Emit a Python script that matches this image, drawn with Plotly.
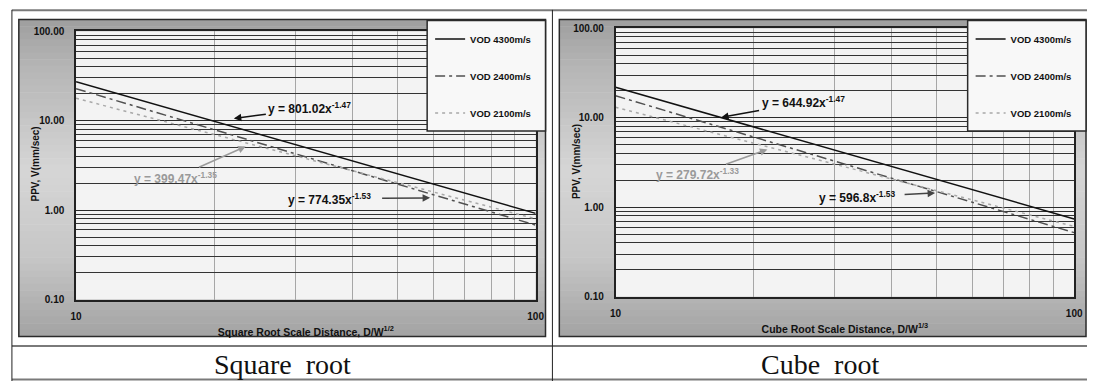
import plotly.graph_objects as go

W, H = 1096, 387

# ---------------- data ----------------
distance = [10, 100]
sq_vod4300 = [27.2, 0.92]
sq_vod2400 = [22.8, 0.68]
sq_vod2100 = [17.8, 0.80]
cu_vod4300 = [21.9, 0.74]
cu_vod2400 = [17.6, 0.52]
cu_vod2100 = [13.1, 0.61]

series_names = ["VOD 4300m/s", "VOD 2400m/s", "VOD 2100m/s"]
y_tickvals = [0.1, 1, 10, 100]
y_ticktext = ["0.10", "1.00", "10.00", "100.00"]
x_tickvals = [10, 100]
x_ticktext = ["10", "100"]
captions = ["Square\u00a0 root", "Cube\u00a0 root"]
x_titles = ["Square Root Scale Distance, D/W<sup>1/2</sup>",
            "Cube Root Scale Distance, D/W<sup>1/3</sup>"]
y_title = "PPV, V(mm/sec)"
sq_equations = ["y = 801.02x<sup>-1.47</sup>", "y = 399.47x<sup>-1.35</sup>", "y = 774.35x<sup>-1.53</sup>"]
cu_equations = ["y = 644.92x<sup>-1.47</sup>", "y = 279.72x<sup>-1.33</sup>", "y = 596.8x<sup>-1.53</sup>"]

# ---------------- styles ----------------
SANS = "Liberation Sans, Arial, sans-serif"
SERIF = "Liberation Serif, Times New Roman, serif"
line_styles = [
    dict(color="#111111", width=1.5, dash="solid"),
    dict(color="#505050", width=1.5, dash="10px,4px,3px,4px"),
    dict(color="#a8a8a8", width=1.5, dash="3px,4px"),
]

def PX(x):
    return x / W

def PY(y):
    return 1 - y / H

fig = go.Figure()

panels = [
    dict(xa="x", ya="y", legend="legend", data=[sq_vod4300, sq_vod2400, sq_vod2100]),
    dict(xa="x2", ya="y2", legend="legend2", data=[cu_vod4300, cu_vod2400, cu_vod2100]),
]
for p in panels:
    for i, (name, vals) in enumerate(zip(series_names, p["data"])):
        fig.add_trace(go.Scatter(
            x=distance, y=vals, mode="lines", name=name,
            line=line_styles[i], xaxis=p["xa"], yaxis=p["ya"],
            legend=p["legend"], legendgroup=p["legend"] + str(i),
            hoverinfo="skip",
        ))

minor_y = [m * 10 ** e for e in (-1, 0, 1) for m in range(2, 10)]
minor_x = [m * 10 for m in range(2, 10)]

def xaxis_cfg(domain, title, anchor):
    return dict(
        type="log", range=[1, 2], domain=domain, anchor=anchor,
        tickmode="array", tickvals=x_tickvals, ticktext=x_ticktext,
        showgrid=False, zeroline=False,
        showline=True, mirror=True, linecolor="#222222", linewidth=1.5,
        ticks="", ticklabelstandoff=7,
        tickfont=dict(family=SANS, size=10, color="#111", weight=700),
        minor=dict(tickmode="array", tickvals=minor_x, showgrid=True,
                   gridcolor="#a6a6a6", gridwidth=1, ticks=""),
        title=dict(text=title, standoff=7,
                   font=dict(family=SANS, size=10.5, color="#111", weight=700)),
    )

def yaxis_cfg(domain, anchor):
    return dict(
        type="log", range=[-1, 2], domain=domain, anchor=anchor,
        tickmode="array", tickvals=y_tickvals, ticktext=y_ticktext,
        showgrid=True, gridcolor="#2a2a2a", gridwidth=1, zeroline=False,
        showline=True, mirror=True, linecolor="#222222", linewidth=1.5,
        ticks="", ticklabelstandoff=8,
        tickfont=dict(family=SANS, size=10, color="#111", weight=700),
        minor=dict(tickmode="array", tickvals=minor_y, showgrid=True,
                   gridcolor="#333333", gridwidth=1, ticks=""),
    )

panel_boxes = [(13, 14, 547, 341), (561, 14, 1095, 341)]
legend_boxes = [(427, 15, 547, 129), (975, 15, 1095, 129)]

fig.update_layout(
    xaxis=xaxis_cfg([PX(71), PX(537)], x_titles[0], "y"),
    yaxis=yaxis_cfg([PY(303), PY(26)], "x"),
    xaxis2=xaxis_cfg([PX(618), PX(1083)], x_titles[1], "y2"),
    yaxis2=yaxis_cfg([PY(300), PY(23)], "x2"),
)

shapes = []

def gray_at(y):
    # vertical gradient of the chart panel: darker at top/bottom, light in middle
    pts = [(14, 158), (60, 180), (170, 214), (260, 198), (341, 163)]
    for (y0, c0), (y1, c1) in zip(pts[:-1], pts[1:]):
        if y0 <= y <= y1:
            t = (y - y0) / (y1 - y0)
            return int(round(c0 + t * (c1 - c0)))
    return pts[-1][1]

for (x0, y0, x1, y1) in panel_boxes:
    n = 48
    step = (y1 - y0) / n
    for k in range(n):
        ya, yb = y0 + k * step, y0 + (k + 1) * step + 0.6
        g = gray_at((ya + yb) / 2)
        shapes.append(dict(type="rect", xref="paper", yref="paper", layer="below",
                           x0=PX(x0), x1=PX(x1), y0=PY(min(yb, y1)), y1=PY(ya),
                           line=dict(width=0), fillcolor=f"rgb({g},{g},{g})"))
    shapes.append(dict(type="rect", xref="paper", yref="paper", layer="below",
                       x0=PX(x0), x1=PX(x1), y0=PY(y1), y1=PY(y0),
                       line=dict(color="#2a2a2a", width=1.5), fillcolor="rgba(0,0,0,0)"))

for xa, ya in (("x", "y"), ("x2", "y2")):
    shapes.append(dict(type="rect", xref=xa + " domain", yref=ya + " domain", layer="below",
                       x0=0, x1=1, y0=0, y1=1, line=dict(width=0), fillcolor="#f3f3f3"))

for (x0, y0, x1, y1) in legend_boxes:
    shapes.append(dict(type="rect", xref="paper", yref="paper", layer="above",
                       x0=PX(x0), x1=PX(x1), y0=PY(y1), y1=PY(y0),
                       line=dict(color="#2a2a2a", width=1.5), fillcolor="#f8f8f8"))

# table frame
def hline(y, x0, x1, color, width):
    shapes.append(dict(type="line", xref="paper", yref="paper", layer="above",
                       x0=PX(x0), x1=PX(x1), y0=PY(y), y1=PY(y),
                       line=dict(color=color, width=width)))

def vline(x, y0, y1, color, width):
    shapes.append(dict(type="line", xref="paper", yref="paper", layer="above",
                       x0=PX(x), x1=PX(x), y0=PY(y0), y1=PY(y1),
                       line=dict(color=color, width=width)))

hline(4.5, 6, 1096, "#7a7a7a", 2)
hline(351, 6, 1096, "#7a7a7a", 2)
hline(385.5, 6, 1096, "#7a7a7a", 2)
vline(6, 4, 387, "#222222", 1)
vline(554, 4, 387, "#222222", 1)

annotations = []

def text_ann(text, x, y, xanchor, color, size=12, font=SANS, weight=700):
    annotations.append(dict(text=text, x=PX(x), y=PY(y), xref="paper", yref="paper",
                            xanchor=xanchor, yanchor="middle", showarrow=False,
                            font=dict(family=font, size=size, color=color, weight=weight)))

def eq_ann(text, head, center, color, arrowcolor, gap):
    # equation label with an arrow pointing from the label to its line
    annotations.append(dict(text=text, x=PX(head[0]), y=PY(head[1]), xref="paper", yref="paper",
                            ax=center[0] - head[0], ay=center[1] - head[1],
                            showarrow=True, arrowhead=2, arrowsize=1, arrowwidth=1.5,
                            arrowcolor=arrowcolor, startstandoff=gap,
                            font=dict(family=SANS, size=12, color=color, weight=700)))

# left panel equations
eq_ann(sq_equations[0], (231, 116), (307, 106), "#111", "#111", 1)
eq_ann(sq_equations[1], (243, 145), (173, 176), "#9a9a9a", "#9a9a9a", 2)
eq_ann(sq_equations[2], (430, 198), (329, 199), "#111", "#444", 10)

# right panel equations
eq_ann(cu_equations[0], (725, 115), (807, 100), "#111", "#111", 1)
eq_ann(cu_equations[1], (772, 148), (702, 173), "#9a9a9a", "#9a9a9a", 2)
eq_ann(cu_equations[2], (942, 193), (864, 197), "#111", "#444", 8)

# y titles
for x, y in ((30, 163), (578, 161)):
    annotations.append(dict(text=y_title, x=PX(x), y=PY(y), xref="paper", yref="paper",
                            xanchor="center", yanchor="middle", textangle=-90, showarrow=False,
                            font=dict(family=SANS, size=10, color="#111", weight=700)))

# captions
text_ann(captions[0], 280, 370, "center", "#111", size=28, font=SERIF, weight=400)
text_ann(captions[1], 825, 370, "center", "#111", size=28, font=SERIF, weight=400)

legend_common = dict(
    bgcolor="rgba(0,0,0,0)", borderwidth=0, xanchor="left", yanchor="top",
    tracegroupgap=18, itemwidth=30,
    font=dict(family=SANS, size=9.5, color="#111", weight=700),
)
fig.update_layout(
    legend=dict(x=PX(430), y=PY(19), **legend_common),
    legend2=dict(x=PX(978), y=PY(19), **legend_common),
)

fig.update_layout(
    width=W, height=H, autosize=False,
    margin=dict(l=0, r=0, t=0, b=0, pad=0),
    paper_bgcolor="white", plot_bgcolor="#f3f3f3",
    shapes=shapes, annotations=annotations, showlegend=True,
)

fig.write_html(
    "out.html",
    config={"displayModeBar": False},
    post_script="document.body.style.margin='0';document.body.style.overflow='hidden';",
)
